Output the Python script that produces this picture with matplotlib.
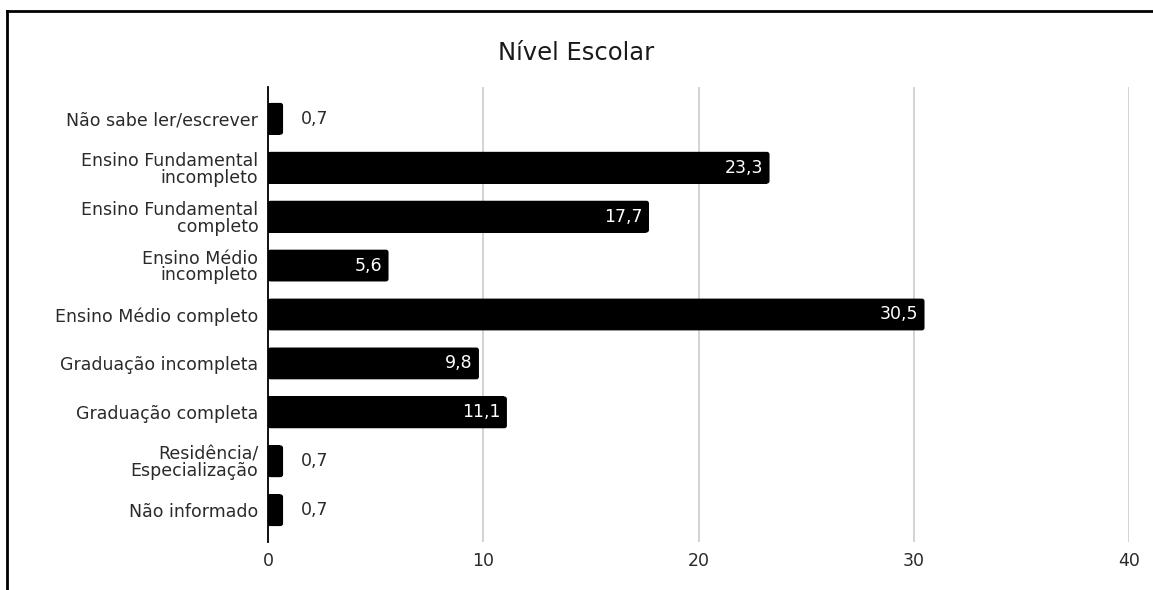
import matplotlib.pyplot as plt
from matplotlib.lines import Line2D
from matplotlib.patches import FancyBboxPatch

plt.rcParams['font.family'] = ['DejaVu Sans']

categories = ['Não sabe ler/escrever', 'Ensino Fundamental\nincompleto',
              'Ensino Fundamental\ncompleto', 'Ensino Médio\nincompleto',
              'Ensino Médio completo', 'Graduação incompleta',
              'Graduação completa', 'Residência/\nEspecialização',
              'Não informado']
values = [0.7, 23.3, 17.7, 5.6, 30.5, 9.8, 11.1, 0.7, 0.7]
labels = ['0,7', '23,3', '17,7', '5,6', '30,5', '9,8', '11,1', '0,7', '0,7']
xticks = [0, 10, 20, 30, 40]

W, H = 1153, 590
fig = plt.figure(figsize=(W / 100, H / 100), dpi=100)
ax = fig.add_axes([268 / W, 1 - 542 / H, (1129 - 268) / W, (542 - 87) / H])

pos = list(range(len(categories)))
bh = 0.65
r = 0.12  # corner radius in x units (~2.5 px)

# square left part + rounded right end
ax.barh(pos, [max(v - r, 0) for v in values], height=bh, color='black', zorder=3)
for y, v in zip(pos, values):
    ax.add_patch(FancyBboxPatch((0, y - bh / 2), v, bh,
                                boxstyle=f'round,pad=0,rounding_size={r}',
                                mutation_aspect=0.44, facecolor='black',
                                edgecolor='none', zorder=3))

for y, v, t in zip(pos, values, labels):
    if v > 3:
        ax.text(v - 0.3, y, t, ha='right', va='center', color='white',
                fontsize=12.5, zorder=4)
    else:
        ax.text(v + 0.85, y, t, ha='left', va='center', color='#2a2a2a',
                fontsize=12.5, zorder=4)

ax.set_xlim(0, 40)
ax.set_ylim(len(categories) - 0.35, -0.65)
ax.set_xticks(xticks)
ax.set_xticklabels([str(x) for x in xticks])
ax.set_yticks(pos)
ax.set_yticklabels(categories, linespacing=0.92)
ax.tick_params(axis='both', length=0, labelsize=12.5, colors='#2a2a2a')
ax.tick_params(axis='x', pad=7)
ax.tick_params(axis='y', pad=7)

ax.grid(axis='x', color='#cccccc', linewidth=1.2, zorder=0)
for s in ['top', 'right', 'bottom']:
    ax.spines[s].set_visible(False)
ax.spines['left'].set_color('black')
ax.spines['left'].set_linewidth(1.3)
ax.spines['left'].set_zorder(5)

fig.text(0.5, 1 - 53 / H, 'Nível Escolar', ha='center', va='center',
         fontsize=17.5, color='#1a1a1a')

# outer frame (only top and left visible in the crop)
fig.add_artist(Line2D([7 / W, 1], [1 - 11 / H, 1 - 11 / H], color='black',
                      linewidth=2, transform=fig.transFigure))
fig.add_artist(Line2D([7 / W, 7 / W], [0, 1 - 11 / H], color='black',
                      linewidth=2, transform=fig.transFigure))

fig.savefig('out.png', dpi=100)
